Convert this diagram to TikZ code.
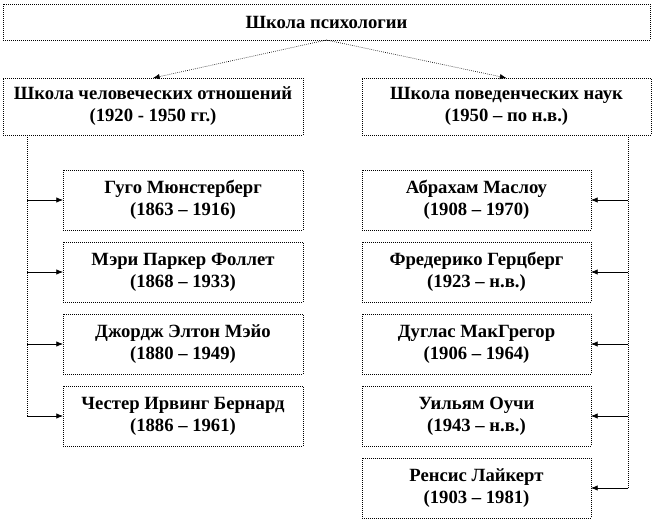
\documentclass[tikz,border=0pt]{standalone}
\usepackage{fontspec}
\setmainfont{Liberation Serif}
\usetikzlibrary{arrows.meta,positioning}

\begin{document}
\begin{tikzpicture}[
    x=0.75pt, y=-0.75pt,
    node distance=9pt,
    box/.style={rectangle, draw=black, densely dotted, line width=0.5pt, inner sep=0pt, outer sep=0pt, align=center, font=\bfseries\fontsize{14}{16.5}\selectfont},
    head/.style={box, minimum height=42.75pt},
    person/.style={box, minimum height=45pt},
    arrow/.style={-{Latex[length=5pt,width=4pt]}, line width=0.5pt},
    trunk/.style={densely dotted, line width=0.5pt}
]
    \useasboundingbox (0,0) rectangle (654,521);

    % Root
    \node[box, minimum width=485.25pt, minimum height=27pt] (school) at (326.5,22) {Школа психологии};

    % Two branches
    \node[head, minimum width=225pt] (human) at (153,106.5) {Школа человеческих отношений\\(1920 - 1950 гг.)};
    \node[head, minimum width=216.75pt] (behav) at (506.5,106.5) {Школа поведенческих наук\\(1950 -- по н.в.)};

    \draw[arrow, densely dotted] (school.south) -- (human.north);
    \draw[arrow, densely dotted] (school.south) -- (behav.north);

    % Human relations
    \node[person, minimum width=180pt] (h1) at (183,200) {Гуго Мюнстерберг\\(1863 -- 1916)};
    \node[person, minimum width=180pt, below=of h1] (h2) {Мэри Паркер Фоллет\\(1868 -- 1933)};
    \node[person, minimum width=180pt, below=of h2] (h3) {Джордж Элтон Мэйо\\(1880 -- 1949)};
    \node[person, minimum width=180pt, below=of h3] (h4) {Честер Ирвинг Бернард\\(1886 -- 1961)};

    % Behavioural sciences
    \node[person, minimum width=171.75pt] (b1) at (476.5,200) {Абрахам Маслоу\\(1908 -- 1970)};
    \node[person, minimum width=171.75pt, below=of b1] (b2) {Фредерико Герцберг\\(1923 -- н.в.)};
    \node[person, minimum width=171.75pt, below=of b2] (b3) {Дуглас МакГрегор\\(1906 -- 1964)};
    \node[person, minimum width=171.75pt, below=of b3] (b4) {Уильям Оучи\\(1943 -- н.в.)};
    \node[person, minimum width=171.75pt, below=of b4] (b5) {Ренсис Лайкерт\\(1903 -- 1981)};

    % Trunks
    \coordinate (ltrunk) at ([xshift=18pt]human.south west);
    \coordinate (rtrunk) at ([xshift=-17.25pt]behav.south east);
    \draw[trunk] (ltrunk) -- (ltrunk |- h4.west);
    \draw[trunk] (rtrunk) -- (rtrunk |- b5.east);

    \foreach \n in {h1,h2,h3,h4}
        \draw[arrow] (ltrunk |- \n.west) -- (\n.west);
    \foreach \n in {b1,b2,b3,b4,b5}
        \draw[arrow] (rtrunk |- \n.east) -- (\n.east);
\end{tikzpicture}
\end{document}
